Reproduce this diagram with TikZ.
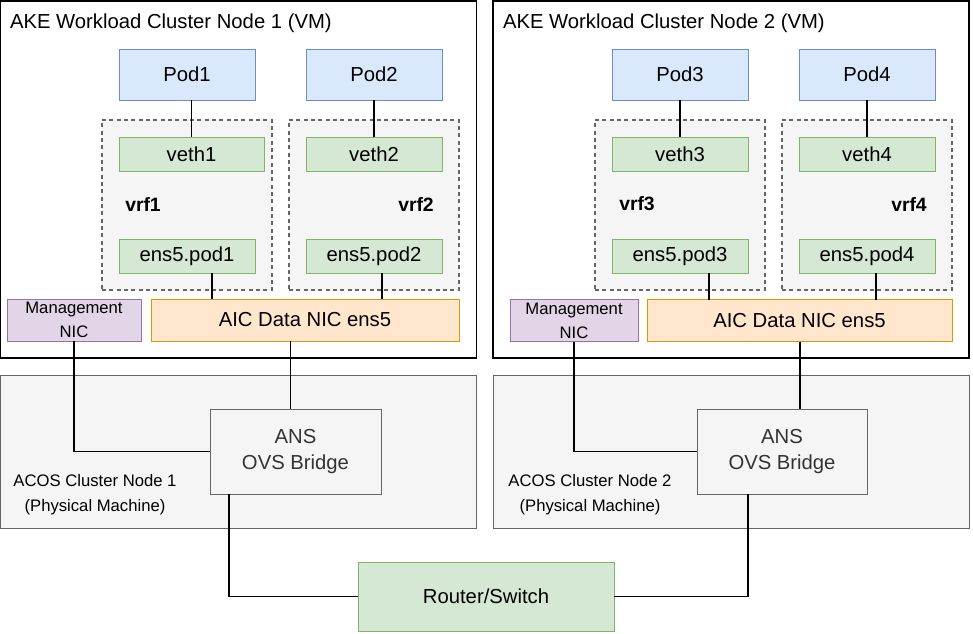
\documentclass[tikz,border=0pt]{standalone}
\usepackage{fontspec}
\setmainfont{Liberation Sans}
\usepackage{tikz}
\usetikzlibrary{positioning,calc}
\definecolor{podFill}  {HTML}{DAE8FC}
\definecolor{podLine}  {HTML}{6C8EBF}
\definecolor{ifFill}   {HTML}{D5E8D4}
\definecolor{ifLine}   {HTML}{82B366}
\definecolor{mgmtFill} {HTML}{E1D5E7}
\definecolor{mgmtLine} {HTML}{9673A6}
\definecolor{nicFill}  {HTML}{FFE6CC}
\definecolor{nicLine}  {HTML}{D79B00}
\definecolor{hostFill} {HTML}{F5F5F5}
\definecolor{hostLine} {HTML}{666666}
\definecolor{hostText} {HTML}{333333}

\begin{document}
\begin{tikzpicture}[
  x=0.75pt, y=-0.75pt,
  font=\fontsize{15.2}{18}\selectfont,
  every node/.style={inner sep=0pt, outer sep=0pt},
  box/.style={draw, line width=0.75pt, rectangle, align=center},
  vmbox/.style={box, draw=black, line width=1pt, fill=white, minimum width=476*0.75pt, minimum height=357*0.75pt},
  podbox/.style={box, draw=podLine, fill=podFill, minimum width=136*0.75pt, minimum height=51*0.75pt},
  ifbox/.style={box, draw=ifLine, fill=ifFill, minimum height=34*0.75pt},
  vrfbox/.style={box, draw=hostLine, dash pattern=on 3pt off 2.5pt, line width=0.9pt, fill=hostFill, minimum width=170*0.75pt, minimum height=170*0.75pt},
  mgmtbox/.style={box, draw=mgmtLine, fill=mgmtFill, minimum height=42*0.75pt, font=\fontsize{12.5}{18}\selectfont},
  nicbox/.style={box, draw=nicLine, fill=nicFill, minimum height=42*0.75pt},
  hostbox/.style={box, draw=hostLine, fill=hostFill, minimum width=476*0.75pt, minimum height=153*0.75pt},
  bridgebox/.style={box, draw=hostLine, fill=hostFill, text=hostText, minimum height=85*0.75pt, font=\fontsize{15.2}{19.5}\selectfont},
  label/.style={font=\fontsize{12.5}{18.75}\selectfont, align=center},
  vrflabel/.style={font=\fontsize{14.5}{18}\selectfont\bfseries},
  wire/.style={line width=1pt, draw=black},
]
  % Scale: 1px = 0.75pt, y grows downwards
  \useasboundingbox (0,0) rectangle (973,633);

  % ---- Node 1 ----
  \node[vmbox] (vm1) at (238.5,179.5) {};
  \node[anchor=west] (vm1title) at (10,23) {AKE Workload Cluster Node 1 (VM)};
  \node[vrfbox] (vrf1) at (187,205) {};
  \node[vrfbox] (vrf2) at (374,205) {};
  \node[vrflabel] (vrf1name) at (143,204) {vrf1};
  \node[vrflabel] (vrf2name) at (416,204) {vrf2};
  \node[podbox] (pod1) at (187,74.5) {Pod1};
  \node[podbox] (pod2) at (374,74.5) {Pod2};
  \node[ifbox, minimum width=145*0.75pt] (veth1) at (191.5,154) {veth1};
  \node[ifbox, minimum width=136*0.75pt] (veth2) at (374,154) {veth2};
  \node[ifbox, minimum width=136*0.75pt] (ens1) at (187,256) {ens5.pod1};
  \node[ifbox, minimum width=136*0.75pt] (ens2) at (374,256) {ens5.pod2};
  \node[mgmtbox, minimum width=134*0.75pt] (mgmt1) at (74,320) {Management\\NIC};
  \node[nicbox, minimum width=308*0.75pt] (aic1) at (305,320) {AIC Data NIC ens5};
  \node[hostbox] (acos1) at (238.5,451.5) {};
  \node[label] (acos1name) at (95,494.5) {ACOS Cluster Node 1\\(Physical Machine)};
  \node[bridgebox, minimum width=171*0.75pt] (br1) at (295.5,451.5) {ANS\\OVS Bridge};

  % ---- Node 2 ----
  \node[vmbox] (vm2) at (731,179.5) {};
  \node[anchor=west] (vm2title) at (503,23) {AKE Workload Cluster Node 2 (VM)};
  \node[vrfbox] (vrf3) at (680,205) {};
  \node[vrfbox] (vrf4) at (867,205) {};
  \node[vrflabel] (vrf3name) at (637,204) {vrf3};
  \node[vrflabel] (vrf4name) at (909,204) {vrf4};
  \node[podbox] (pod3) at (680,74.5) {Pod3};
  \node[podbox] (pod4) at (867,74.5) {Pod4};
  \node[ifbox, minimum width=136*0.75pt] (veth3) at (680,154) {veth3};
  \node[ifbox, minimum width=136*0.75pt] (veth4) at (867,154) {veth4};
  \node[ifbox, minimum width=136*0.75pt] (ens3) at (680,256) {ens5.pod3};
  \node[ifbox, minimum width=136*0.75pt] (ens4) at (867,256) {ens5.pod4};
  \node[mgmtbox, minimum width=128*0.75pt] (mgmt2) at (574,320.5) {Management\\NIC};
  \node[nicbox, minimum width=305*0.75pt] (aic2) at (799.5,320.5) {AIC Data NIC ens5};
  \node[hostbox] (acos2) at (731,451.5) {};
  \node[label] (acos2name) at (590,494.5) {ACOS Cluster Node 2\\(Physical Machine)};
  \node[bridgebox, minimum width=170*0.75pt] (br2) at (782,451.5) {ANS\\OVS Bridge};

  % ---- Switch ----
  \node[box, draw=ifLine, fill=ifFill, minimum width=256*0.75pt, minimum height=69*0.75pt] (router) at (486,596.5) {Router/Switch};

  % ---- Links ----
  \draw[wire] (veth1.north |- pod1.south) -- (veth1.north);
  \draw[wire] (pod2.south) -- (veth2.north);
  \draw[wire] ([xshift=25*0.75pt]ens1.south) -- ([xshift=25*0.75pt]ens1.south |- aic1.north);
  \draw[wire] ([xshift=8*0.75pt]ens2.south) -- ([xshift=8*0.75pt]ens2.south |- aic1.north);
  \draw[wire] (mgmt1.south) |- (br1.west);
  \draw[wire] ([xshift=-5*0.75pt]br1.north |- aic1.south) -- ([xshift=-5*0.75pt]br1.north);
  \draw[wire] ([xshift=19*0.75pt]br1.south west) |- (router.west);

  \draw[wire] (pod3.south) -- (veth3.north);
  \draw[wire] (pod4.south) -- (veth4.north);
  \draw[wire] ([xshift=29*0.75pt]ens3.south) -- ([xshift=29*0.75pt]ens3.south |- aic2.north);
  \draw[wire] ([xshift=9*0.75pt]ens4.south) -- ([xshift=9*0.75pt]ens4.south |- aic2.north);
  \draw[wire] (mgmt2.south) |- (br2.west);
  \draw[wire] ([xshift=18*0.75pt]br2.north |- aic2.south) -- ([xshift=18*0.75pt]br2.north);
  \draw[wire] ([xshift=-34*0.75pt]br2.south) |- (router.east);
\end{tikzpicture}
\end{document}
